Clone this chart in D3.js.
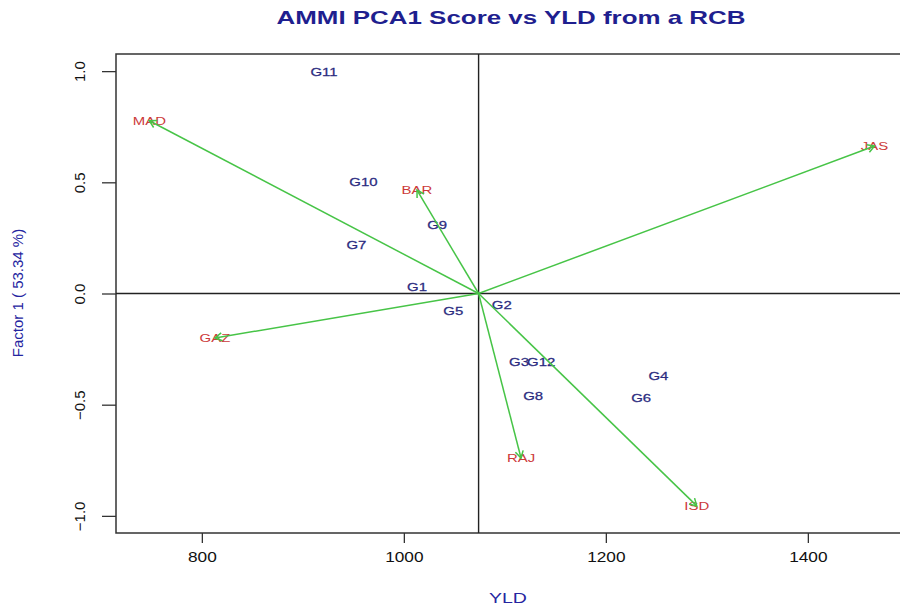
<!DOCTYPE html>
<html>
<head>
<meta charset="utf-8">
<script src="https://cdn.jsdelivr.net/npm/d3@7"></script>
<style>
  body { margin: 0; background: #fff; }
  svg { display: block; font-family: "Liberation Sans", Arial, sans-serif; }
</style>
</head>
<body>
<svg id="chart" width="900" height="610"></svg>
<script>
// genotypes
var genoNames = ["G1", "G2", "G3", "G4", "G5", "G6", "G7", "G8", "G9", "G10", "G11", "G12"];
var genoYld = [1013, 1097, 1114, 1252, 1049, 1235, 953, 1128, 1033, 960, 921, 1136];
var genoPca = [0.03, -0.05, -0.31, -0.37, -0.08, -0.47, 0.22, -0.46, 0.31, 0.50, 0.995, -0.31];

// environments
var envNames = ["BAR", "GAZ", "ISD", "JAS", "MAD", "RAJ"];
var envYld = [1013, 813, 1290, 1466, 748, 1116];
var envPca = [0.465, -0.20, -0.955, 0.663, 0.777, -0.74];

var meanYld = 1074;
var xTicks = [800, 1000, 1200, 1400];
var yTicks = [-1.0, -0.5, 0.0, 0.5, 1.0];

var svg = d3.select("#chart");
var padL = 116, padT = 54, plotW = 786, plotH = 479;
var stretch = 1.3;

var x = d3.scaleLinear().domain([715, 715 + plotW / 1.01]).range([padL, padL + plotW]);
var y = d3.scaleLinear().domain([-1.077, 1.077]).range([padT + plotH, padT]);

// title
svg.append("text")
  .attr("x", 511).attr("y", 24)
  .attr("text-anchor", "middle")
  .attr("font-size", 19).attr("font-weight", "bold")
  .attr("fill", "#1f1f8f")
  .attr("textLength", 469).attr("lengthAdjust", "spacingAndGlyphs")
  .text("AMMI PCA1 Score vs YLD from a RCB");

// axes
var xAxis = svg.append("g")
  .attr("transform", "translate(0," + (padT + plotH) + ")")
  .call(d3.axisBottom(x).tickValues(xTicks).tickSize(10).tickPadding(8).tickFormat(d3.format("d")));
xAxis.select(".domain").remove();
xAxis.selectAll("line").attr("stroke", "#333").attr("stroke-width", 1.3);
xAxis.selectAll("text").attr("font-size", 15).attr("fill", "#111")
  .attr("transform", "scale(1.15,1)");

var yAxis = svg.append("g")
  .attr("transform", "translate(" + padL + ",0)")
  .call(d3.axisLeft(y).tickValues(yTicks).tickSize(14).tickFormat(d3.format(".1f")));
yAxis.select(".domain").remove();
yAxis.selectAll("line").attr("stroke", "#333").attr("stroke-width", 1.3);
yAxis.selectAll("text").remove();
yAxis.selectAll(".tick").append("text")
  .attr("transform", "translate(-36,0) rotate(-90)")
  .attr("text-anchor", "middle")
  .attr("dy", "0.35em")
  .attr("font-size", 15).attr("fill", "#111")
  .text(function(d) { return d3.format(".1f")(d); });

// axis titles
svg.append("text")
  .attr("transform", "translate(508,603) scale(" + stretch + ",1)")
  .attr("text-anchor", "middle")
  .attr("font-size", 15).attr("fill", "#2525a0")
  .text("YLD");

svg.append("text")
  .attr("transform", "translate(23,293) rotate(-90)")
  .attr("text-anchor", "middle")
  .attr("font-size", 15).attr("fill", "#2525a0")
  .text("Factor 1 ( 53.34 %)");

// plot box
svg.append("rect")
  .attr("x", padL).attr("y", padT).attr("width", plotW).attr("height", plotH)
  .attr("fill", "none").attr("stroke", "#333").attr("stroke-width", 1.5);

// reference lines
svg.append("line")
  .attr("x1", padL).attr("x2", padL + plotW).attr("y1", y(0)).attr("y2", y(0))
  .attr("stroke", "#222").attr("stroke-width", 1.4);
svg.append("line")
  .attr("x1", x(meanYld)).attr("x2", x(meanYld)).attr("y1", padT).attr("y2", padT + plotH)
  .attr("stroke", "#222").attr("stroke-width", 1.4);

// genotype labels
svg.selectAll(".geno")
  .data(genoNames)
  .enter().append("text")
  .attr("class", "geno")
  .attr("transform", function(d, i) {
    return "translate(" + x(genoYld[i]) + "," + y(genoPca[i]) + ") scale(" + stretch + ",1)";
  })
  .attr("text-anchor", "middle").attr("dy", "0.35em")
  .attr("font-size", 11.5).attr("fill", "#2b2b80")
  .attr("stroke", "#2b2b80").attr("stroke-width", 0.25)
  .text(function(d) { return d; });

// environment labels
svg.selectAll(".env")
  .data(envNames)
  .enter().append("text")
  .attr("class", "env")
  .attr("transform", function(d, i) {
    return "translate(" + x(envYld[i]) + "," + y(envPca[i]) + ") scale(" + stretch + ",1)";
  })
  .attr("text-anchor", "middle").attr("dy", "0.35em")
  .attr("font-size", 11.5).attr("fill", "#cc3a3a")
  .text(function(d) { return d; });

// arrows from the origin to each environment
var arrowG = svg.append("g").attr("stroke", "#47c447").attr("stroke-width", 1.5).attr("fill", "none");
envNames.forEach(function(name, i) {
  var x0 = x(meanYld), y0 = y(0), x1 = x(envYld[i]), y1 = y(envPca[i]);
  arrowG.append("line").attr("x1", x0).attr("y1", y0).attr("x2", x1).attr("y2", y1);
  var ang = Math.atan2(y1 - y0, x1 - x0), len = 8, spread = Math.PI / 6;
  var path = d3.path();
  path.moveTo(x1 - len * Math.cos(ang - spread), y1 - len * Math.sin(ang - spread));
  path.lineTo(x1, y1);
  path.lineTo(x1 - len * Math.cos(ang + spread), y1 - len * Math.sin(ang + spread));
  arrowG.append("path").attr("d", path.toString());
});
</script>
</body>
</html>
